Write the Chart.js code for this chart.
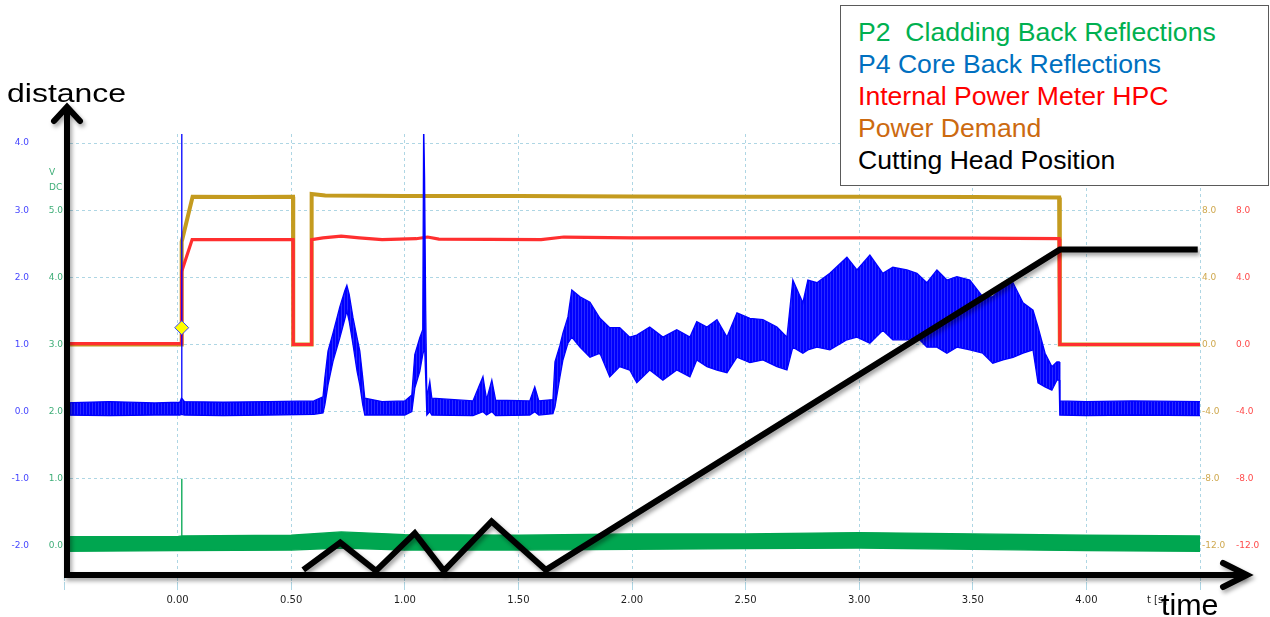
<!DOCTYPE html>
<html>
<head>
<meta charset="utf-8">
<title>Cutting process signals</title>
<script src="https://cdn.jsdelivr.net/npm/chart.js@4.4.1/dist/chart.umd.min.js"></script>
<style>
  html, body { margin: 0; padding: 0; background: #fff; }
  #wrap { position: relative; width: 1270px; height: 617px; overflow: hidden; font-family: "Liberation Sans", Arial, sans-serif; }
  #c { position: absolute; left: 0; top: 0; }
  .txt { position: absolute; white-space: pre; }
  #legendBox { position: absolute; left: 840px; top: 5px; width: 429px; height: 181px; box-sizing: border-box; border: 1px solid #5a5a5a; background: #fff; }
  .leg { font-size: 26.6px; line-height: 32px; left: 858px; }
  #distance { left: 7px; top: 77.7px; font-size: 26px; line-height: 30px; color: #000; transform: scaleX(1.23); transform-origin: 0 0; }
  #time { left: 1161px; top: 589px; font-size: 29px; line-height: 32px; color: #000; transform: scaleX(1.05); transform-origin: 0 0; }
  #tunit { left: 1147px; top: 593.5px; font-family: "DejaVu Sans", sans-serif; font-size: 10px; line-height: 12px; color: #222; }
  #vdc { left: 49px; top: 164.5px; font-family: "DejaVu Sans", sans-serif; font-size: 9px; line-height: 15px; color: #3fae78; }
</style>
</head>
<body>
<div id="wrap">
  <canvas id="c" width="1270" height="617"></canvas>
  <div class="txt" id="tunit">t [s]</div>
  <div class="txt" id="vdc">V<br>DC</div>
  <div id="legendBox"></div>
  <div class="txt leg" style="top:15.5px;color:#00b050">P2  Cladding Back Reflections</div>
  <div class="txt leg" style="top:47.5px;color:#0070c0">P4 Core Back Reflections</div>
  <div class="txt leg" style="top:79.5px;color:#ff0000">Internal Power Meter HPC</div>
  <div class="txt leg" style="top:111.5px;color:#cc6a10">Power Demand</div>
  <div class="txt leg" style="top:143.5px;color:#000000">Cutting Head Position</div>
  <div class="txt" id="distance">distance</div>
  <div class="txt" id="time">time</div>
</div>
<script>
// ---- P4 core back reflections (V, left blue scale): min/max envelope per time
const blueT  = [-0.50, -0.30, -0.10, 0.010, 0.017, 0.018, 0.019, 0.030, 0.20, 0.40, 0.60, 0.640, 0.648, 0.662, 0.684, 0.714, 0.736, 0.745, 0.755, 0.772, 0.790, 0.802, 0.815, 0.824, 0.90, 1.00, 1.031, 1.044, 1.066, 1.079, 1.083, 1.087, 1.092, 1.097, 1.110, 1.119, 1.30, 1.344, 1.360, 1.383, 1.400, 1.55, 1.572, 1.590, 1.652, 1.661, 1.683, 1.696, 1.718, 1.735, 1.771, 1.815, 1.859, 1.902, 1.946, 1.990, 2.021, 2.078, 2.136, 2.197, 2.255, 2.285, 2.330, 2.374, 2.418, 2.462, 2.519, 2.576, 2.638, 2.682, 2.708, 2.752, 2.774, 2.814, 2.871, 2.946, 2.990, 3.047, 3.104, 3.148, 3.210, 3.254, 3.298, 3.342, 3.386, 3.430, 3.487, 3.544, 3.588, 3.633, 3.677, 3.721, 3.765, 3.787, 3.818, 3.848, 3.870, 3.880, 3.883, 4.00, 4.20, 4.50];
const blueHi = [0.13, 0.15, 0.13, 0.14, 0.20, 4.30, 0.20, 0.15, 0.14, 0.15, 0.16, 0.22, 0.50, 0.90, 1.17, 1.56, 1.80, 1.88, 1.75, 1.40, 1.10, 0.90, 0.50, 0.20, 0.15, 0.16, 0.25, 0.85, 1.10, 1.22, 4.30, 3.49, 1.50, 0.20, 0.45, 0.20, 0.16, 0.52, 0.18, 0.47, 0.17, 0.16, 0.37, 0.16, 0.18, 0.74, 0.99, 1.17, 1.41, 1.81, 1.71, 1.63, 1.39, 1.25, 1.25, 1.11, 1.14, 1.26, 1.11, 1.22, 1.11, 1.34, 1.26, 1.37, 1.11, 1.47, 1.39, 1.37, 1.26, 1.11, 1.96, 1.62, 1.96, 1.92, 2.06, 2.30, 2.11, 2.33, 2.06, 2.15, 2.11, 2.06, 1.92, 2.11, 1.96, 2.01, 1.96, 1.71, 1.71, 1.86, 1.92, 1.62, 1.51, 1.26, 0.87, 0.67, 0.74, 0.74, 0.16, 0.15, 0.16, 0.15];
const blueLo = [-0.05, -0.06, -0.05, -0.05, -0.04, -0.04, -0.04, -0.05, -0.06, -0.05, -0.04, -0.02, 0.10, 0.40, 0.75, 1.10, 1.38, 1.50, 1.35, 1.00, 0.60, 0.40, 0.10, -0.05, -0.05, -0.05, 0.00, 0.35, 0.60, 0.85, 0.90, 1.00, 0.50, -0.05, 0.00, -0.05, -0.06, 0.00, -0.05, 0.00, -0.06, -0.05, 0.00, -0.05, -0.03, 0.07, 0.52, 0.77, 1.02, 1.11, 0.96, 0.81, 0.87, 0.52, 0.67, 0.62, 0.43, 0.62, 0.47, 0.62, 0.52, 0.77, 0.67, 0.62, 0.58, 0.81, 0.73, 0.77, 0.67, 0.62, 0.96, 0.87, 0.92, 0.96, 0.92, 1.07, 1.11, 1.02, 1.21, 1.07, 1.07, 1.11, 0.96, 0.96, 0.87, 0.96, 0.92, 0.87, 0.72, 0.77, 0.81, 0.87, 0.92, 0.43, 0.37, 0.32, 0.47, 0.47, -0.05, -0.06, -0.05, -0.06];

// ---- P2 cladding back reflections (V, left green scale): min/max envelope
const greenT  = [-0.50, 0.00, 0.017, 0.018, 0.019, 0.50, 0.72, 1.00, 1.50, 2.00, 2.50, 3.00, 3.50, 4.00, 4.50];
const greenHi = [0.14, 0.14, 0.15, 1.00, 0.15, 0.16, 0.21, 0.17, 0.16, 0.18, 0.18, 0.20, 0.18, 0.16, 0.15];
const greenLo = [-0.08, -0.07, -0.07, -0.07, -0.07, -0.06, -0.03, -0.06, -0.06, -0.05, -0.04, -0.03, -0.05, -0.07, -0.08];

// ---- Internal power meter HPC (right red scale)
const redT = [-0.50, 0.018, 0.018, 0.064, 0.30, 0.508, 0.509, 0.589, 0.590, 0.64, 0.72, 0.80, 0.90, 1.05, 1.10, 1.15, 1.60, 1.70, 2.00, 2.50, 3.00, 3.50, 3.880, 3.883, 4.50];
const redV = [0.05, 0.05, 4.34, 6.25, 6.25, 6.25, 0.00, 0.00, 6.25, 6.35, 6.45, 6.35, 6.25, 6.30, 6.40, 6.28, 6.25, 6.40, 6.35, 6.35, 6.35, 6.33, 6.30, 0.00, 0.00];

// ---- Power demand (right olive scale)
const demandT = [-0.50, 0.018, 0.018, 0.066, 0.30, 0.508, 0.509, 0.589, 0.590, 0.65, 1.00, 1.50, 2.00, 2.50, 3.00, 3.50, 3.880, 3.883, 4.50];
const demandV = [0.00, 0.00, 6.12, 8.80, 8.78, 8.80, 0.00, 0.00, 8.96, 8.88, 8.84, 8.84, 8.82, 8.80, 8.80, 8.78, 8.75, 0.00, 0.00];

// ---- Cutting head position (distance, % of plot height)
const headT = [0.553, 0.716, 0.873, 1.044, 1.172, 1.382, 1.621, 3.883, 4.490];
const headD = [2.7, 8.8, 2.5, 10.9, 2.5, 13.5, 2.7, 74.2, 74.2];

// ---- Trigger marker
const trigT = [0.018];
const trigV = [1.25];

// ---- Axis ticks
const timeTicks = [0, 0.5, 1, 1.5, 2, 2.5, 3, 3.5, 4];
const blueTicks = [-2, -1, 0, 1, 2, 3, 4];
const greenTicks = [0, 1, 2, 3, 4, 5];
const rightTicks = [-12, -8, -4, 0, 4, 8];

const pts = (xs, ys) => xs.map((x, i) => ({ x: x, y: ys[i] }));
const inList = (list, v) => list.some(t => Math.abs(t - v) < 1e-6);

const BLUE = '#0000ff', GREEN = '#00a650', RED = '#ff2f2f', OLIVE = '#c49b1f';
const GRID = '#aed6e4';
const tickFont = { family: 'DejaVu Sans', size: 9 };

// faintly striped fill so the sampled min/max band reads like a dense scope trace
function traceFill(solid, light) {
  const p = document.createElement('canvas');
  p.width = 3; p.height = 1;
  const g = p.getContext('2d');
  g.fillStyle = solid; g.fillRect(0, 0, 2, 1);
  g.fillStyle = light; g.fillRect(2, 0, 1, 1);
  return document.getElementById('c').getContext('2d').createPattern(p, 'repeat');
}
const blueFill = traceFill('#0000ff', '#2a2aff');

// soft drop shadow for selected datasets
const dropShadow = {
  id: 'dropShadow',
  beforeDatasetDraw(chart, args) {
    if (chart.data.datasets[args.index].dropShadow) {
      const c = chart.ctx;
      c.save();
      c.shadowColor = 'rgba(0,0,0,0.38)';
      c.shadowBlur = 4;
      c.shadowOffsetX = 2;
      c.shadowOffsetY = 3;
    }
  },
  afterDatasetDraw(chart, args) {
    if (chart.data.datasets[args.index].dropShadow) chart.ctx.restore();
  }
};

// heavy "distance" / "time" arrows framing the plot
const axisArrows = {
  id: 'axisArrows',
  afterDatasetsDraw(chart) {
    const { ctx, chartArea: a } = chart;
    const x0 = a.left + 3, y0 = a.bottom - 7;
    const yTop = a.top - 27, xEnd = a.right + 47;
    ctx.save();
    ctx.shadowColor = 'rgba(0,0,0,0.35)';
    ctx.shadowBlur = 4;
    ctx.shadowOffsetX = 2;
    ctx.shadowOffsetY = 3;
    ctx.strokeStyle = '#000';
    ctx.lineWidth = 6;
    ctx.lineJoin = 'miter';
    ctx.lineCap = 'butt';
    ctx.beginPath();
    ctx.moveTo(x0, y0 + 3);
    ctx.lineTo(x0, yTop + 2);
    ctx.moveTo(x0 - 3, y0);
    ctx.lineTo(xEnd - 2, y0);
    ctx.stroke();
    ctx.lineCap = 'round';
    ctx.beginPath();
    ctx.moveTo(x0 - 13, yTop + 14);
    ctx.lineTo(x0, yTop);
    ctx.lineTo(x0 + 13, yTop + 14);
    ctx.stroke();
    ctx.beginPath();
    ctx.moveTo(xEnd - 24, y0 - 12);
    ctx.lineTo(xEnd, y0);
    ctx.lineTo(xEnd - 24, y0 + 12);
    ctx.stroke();
    ctx.restore();
  }
};

new Chart(document.getElementById('c'), {
  type: 'line',
  data: {
    datasets: [
      { label: 'Cutting Head Position', data: pts(headT, headD), yAxisID: 'yD', borderColor: '#000', borderWidth: 6, borderJoinStyle: 'miter', borderCapStyle: 'butt', pointRadius: 0, fill: false, dropShadow: true },
      { label: 'Trigger', data: pts(trigT, trigV), yAxisID: 'yB', showLine: false, pointStyle: 'rectRot', pointRadius: 7, pointBackgroundColor: '#ffff00', pointBorderColor: '#3344ff', pointBorderWidth: 1 },
      { label: 'P4 max', data: pts(blueT, blueHi), yAxisID: 'yB', borderColor: BLUE, borderWidth: 1.3, pointRadius: 0, fill: false },
      { label: 'P4 Core Back Reflections', data: pts(blueT, blueLo), yAxisID: 'yB', borderColor: BLUE, borderWidth: 1.3, pointRadius: 0, backgroundColor: blueFill, fill: { target: 2 } },
      { label: 'Internal Power Meter HPC', data: pts(redT, redV), yAxisID: 'yR', borderColor: RED, borderWidth: 3.2, pointRadius: 0, fill: false },
      { label: 'Power Demand', data: pts(demandT, demandV), yAxisID: 'yO', borderColor: OLIVE, borderWidth: 4, pointRadius: 0, fill: false },
      { label: 'P2 max', data: pts(greenT, greenHi), yAxisID: 'yG', borderColor: GREEN, borderWidth: 1.3, pointRadius: 0, fill: false },
      { label: 'P2 Cladding Back Reflections', data: pts(greenT, greenLo), yAxisID: 'yG', borderColor: GREEN, borderWidth: 1.3, pointRadius: 0, backgroundColor: GREEN, fill: { target: 6 } }
    ]
  },
  options: {
    responsive: false,
    animation: false,
    devicePixelRatio: 1,
    layout: { padding: { top: 134, left: 0, right: 0, bottom: 0 } },
    elements: { line: { tension: 0 } },
    plugins: { legend: { display: false }, tooltip: { enabled: false } },
    scales: {
      x: {
        type: 'linear', min: -0.5, max: 4.5,
        afterFit(s) { s.height = 35; },
        ticks: {
          stepSize: 0.5, autoSkip: false, maxRotation: 0, padding: 4,
          color: '#1e1e1e', font: { family: 'DejaVu Sans', size: 10 },
          callback: v => inList(timeTicks, v) ? v.toFixed(2) : ''
        },
        grid: { color: GRID, lineWidth: 1, drawTicks: true, tickLength: 8 },
        border: { display: false, dash: [3, 3] }
      },
      yB: {
        position: 'left', weight: 2, min: -2.536, max: 4.134,
        afterFit(s) { s.width = 44; },
        ticks: { stepSize: 1, includeBounds: false, padding: 15, color: '#4646ff', font: tickFont,
          callback: v => inList(blueTicks, v) ? v.toFixed(1) : '' },
        grid: { color: GRID, lineWidth: 1, drawTicks: false },
        border: { display: false, dash: [3, 3] }
      },
      yG: {
        position: 'left', weight: 1, min: -0.536, max: 6.134,
        afterFit(s) { s.width = 20; },
        ticks: { stepSize: 1, includeBounds: false, padding: 1, color: '#3fae78', font: tickFont,
          callback: v => inList(greenTicks, v) ? v.toFixed(1) : '' },
        grid: { display: false, drawTicks: false },
        border: { display: false }
      },
      yO: {
        position: 'right', weight: 1, min: -14.144, max: 12.536,
        afterFit(s) { s.width = 34; },
        ticks: { stepSize: 4, includeBounds: false, padding: 2, color: '#cfa84e', font: tickFont,
          callback: v => inList(rightTicks, v) ? v.toFixed(1) : '' },
        grid: { display: false, drawTicks: false },
        border: { display: false }
      },
      yR: {
        position: 'right', weight: 2, min: -14.144, max: 12.536,
        afterFit(s) { s.width = 36; },
        ticks: { stepSize: 4, includeBounds: false, padding: 2, color: '#ff4a4a', font: tickFont,
          callback: v => inList(rightTicks, v) ? v.toFixed(1) : '' },
        grid: { display: false, drawTicks: false },
        border: { display: false }
      },
      yD: { display: false, min: 0, max: 100 }
    }
  },
  plugins: [dropShadow, axisArrows]
});
</script>
</body>
</html>
